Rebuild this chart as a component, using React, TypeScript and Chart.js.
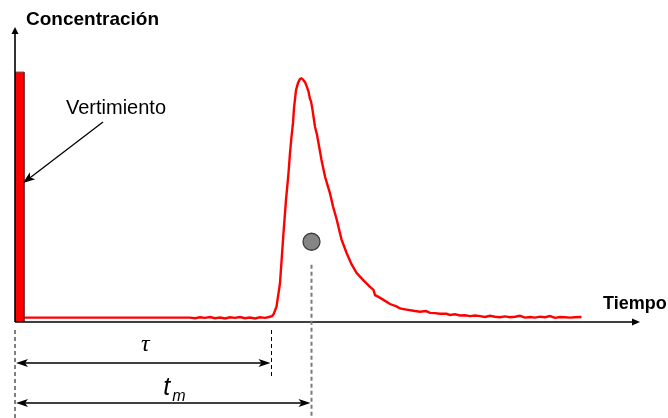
import { useEffect, useRef } from "react";
import { Chart, registerables } from "chart.js";

Chart.register(...registerables);

// ---- data (time units, concentration units) ----
const timeValues = [
  1.8, 35, 36, 37, 38, 39, 40, 41, 42, 43,
  44, 45, 46, 47, 48, 49, 50, 50.8, 51.4, 51.7,
  52.3, 53, 53.7, 54.2, 54.7, 55, 55.3, 55.6, 55.8, 56.2,
  56.6, 57, 57.3, 57.6, 58, 58.4, 58.7, 59, 59.2, 59.5,
  60, 60.4, 60.7, 61.3, 62, 62.5, 63, 63.6, 64.3, 65.3,
  66.3, 67.3, 68.3, 69.7, 71, 71.7, 72, 72.6, 73.7, 75,
  76.3, 77, 78, 79.7, 81, 82.2, 83, 84, 85, 86.3,
  87, 88, 89, 90, 91, 92, 93, 94, 95, 96,
  97, 98, 99, 100, 101, 102, 103, 104, 105, 106,
  107, 108, 109, 110, 111, 112, 113.3,
];
const concentrationValues = [
  1.5, 1.5, 1.3, 1.6, 1.4, 1.7, 1.3, 1.5, 1.2, 1.6,
  1.4, 1.7, 1.3, 1.5, 1.2, 1.6, 1.4, 1.7, 2.0, 2.6,
  5.2, 13.2, 30.2, 41.4, 50.5, 57.3, 62.8, 67.5, 72.5, 78.6,
  81, 82.4, 82.6, 82.2, 81.3, 79.6, 78.1, 75.6, 74.9, 71.9,
  66.2, 63.5, 60.7, 54.9, 49.3, 46.4, 43.6, 39.2, 35.0, 28.0,
  23.5, 19.6, 16.7, 14.1, 11.9, 10.9, 9.1, 8.6, 7.5, 6.1,
  5.3, 4.6, 4.3, 3.8, 3.5, 3.7, 3.1, 3.0, 2.8, 2.8,
  2.4, 2.6, 2.2, 2.3, 2.0, 2.2, 2.0, 1.7, 2.1, 1.8,
  1.6, 1.9, 1.6, 1.8, 2.1, 1.5, 1.7, 1.5, 1.8, 1.6,
  2.0, 1.4, 1.7, 1.6, 1.5, 1.6, 1.7,
];
const pulseTime = [0, 0, 1.8, 1.8];
const pulseConc = [0, 84.7, 84.7, 0];
const tauValue = 51.3;
const tmValue = 59.3;
const centroidConc = 27.2;
const pulseArrowTip = { x: 1.6, y: 47.1 };

const yAxisTitle = "Concentración";
const xAxisTitle = "Tiempo";
const pulseLabel = "Vertimiento";
const tauLabel = "τ";
const tmLabel = "t";
const tmSub = "m";

function arrowHead(
  ctx: CanvasRenderingContext2D,
  tx: number,
  ty: number,
  angle: number,
  len: number,
  half: number,
  inset: number
) {
  ctx.save();
  ctx.translate(tx, ty);
  ctx.rotate(angle);
  ctx.beginPath();
  ctx.moveTo(0, 0);
  ctx.lineTo(-len, -half);
  ctx.lineTo(-len + inset, 0);
  ctx.lineTo(-len, half);
  ctx.closePath();
  ctx.fill();
  ctx.restore();
}

const overlayPlugin = {
  id: "overlay",
  afterDatasetsDraw(chart: any) {
    const ctx: CanvasRenderingContext2D = chart.ctx;
    const xs = chart.scales.x;
    const ys = chart.scales.y;
    const x0 = xs.getPixelForValue(0);
    const y0 = ys.getPixelForValue(0);
    const top = ys.top;
    const right = xs.right;
    const xTau = xs.getPixelForValue(tauValue);
    const xTm = xs.getPixelForValue(tmValue);
    const H = chart.height;

    ctx.save();
    ctx.fillStyle = "#000";
    ctx.strokeStyle = "#000";

    // axes
    ctx.lineWidth = 1.6;
    ctx.beginPath();
    ctx.moveTo(x0, y0);
    ctx.lineTo(x0, top + 5);
    ctx.moveTo(x0, y0);
    ctx.lineTo(right - 5, y0);
    ctx.stroke();
    arrowHead(ctx, x0, top, -Math.PI / 2, 7, 3.5, 0);
    arrowHead(ctx, right, y0, 0, 8, 3.5, 0);

    // axis titles
    ctx.textBaseline = "alphabetic";
    ctx.textAlign = "left";
    ctx.font = "bold 19px 'Liberation Sans', Arial, sans-serif";
    ctx.fillText(yAxisTitle, x0 + 11, 25);
    ctx.font = "bold 18px 'Liberation Sans', Arial, sans-serif";
    ctx.fillText(xAxisTitle, right - 37, y0 - 13);

    // pulse label + arrow
    ctx.font = "20px 'Liberation Sans', Arial, sans-serif";
    ctx.fillText(pulseLabel, x0 + 51, 114);
    const tipX = xs.getPixelForValue(pulseArrowTip.x);
    const tipY = ys.getPixelForValue(pulseArrowTip.y);
    const sx = 103;
    const sy = 122;
    const ang = Math.atan2(tipY - sy, tipX - sx);
    ctx.lineWidth = 1.3;
    ctx.beginPath();
    ctx.moveTo(sx, sy);
    ctx.lineTo(tipX - Math.cos(ang) * 6, tipY - Math.sin(ang) * 6);
    ctx.stroke();
    arrowHead(ctx, tipX, tipY, ang, 12, 4.5, 3);

    // dashed reference lines
    ctx.lineWidth = 1;
    ctx.setLineDash([4, 3]);
    ctx.beginPath();
    ctx.moveTo(x0, y0 + 8);
    ctx.lineTo(x0, H);
    ctx.moveTo(xTau, y0 + 8);
    ctx.lineTo(xTau, y0 + 56);
    ctx.stroke();

    ctx.strokeStyle = "#7a7a7a";
    ctx.lineWidth = 2;
    ctx.beginPath();
    ctx.moveTo(xTm, ys.getPixelForValue(centroidConc) + 23);
    ctx.lineTo(xTm, H);
    ctx.stroke();
    ctx.setLineDash([]);

    // dimension arrows
    ctx.strokeStyle = "#000";
    ctx.lineWidth = 1.5;
    const yTauArrow = y0 + 41;
    const yTmArrow = y0 + 81;
    ctx.beginPath();
    ctx.moveTo(x0 + 6, yTauArrow);
    ctx.lineTo(xTau - 6, yTauArrow);
    ctx.moveTo(x0 + 6, yTmArrow);
    ctx.lineTo(xTm - 6, yTmArrow);
    ctx.stroke();
    arrowHead(ctx, x0 + 1, yTauArrow, Math.PI, 12, 4, 3);
    arrowHead(ctx, xTau - 1, yTauArrow, 0, 12, 4, 3);
    arrowHead(ctx, x0 + 1, yTmArrow, Math.PI, 12, 4, 3);
    arrowHead(ctx, xTm - 1, yTmArrow, 0, 12, 4, 3);

    // labels
    ctx.textAlign = "center";
    ctx.font = "italic 24px 'Liberation Serif', 'Times New Roman', serif";
    ctx.fillText(tauLabel, (x0 + xTau) / 2 + 2, y0 + 29);
    ctx.textAlign = "left";
    const mid = (x0 + xTm) / 2;
    ctx.font = "italic 25px 'Liberation Sans', Arial, sans-serif";
    ctx.fillText(tmLabel, mid, y0 + 73);
    ctx.font = "italic 16px 'Liberation Sans', Arial, sans-serif";
    ctx.fillText(tmSub, mid + 9, y0 + 79);

    ctx.restore();
  },
};

export default function App() {
  const ref = useRef<HTMLCanvasElement | null>(null);

  useEffect(() => {
    document.body.style.margin = "0";
    const canvas = ref.current;
    if (!canvas) return;
    const curve = timeValues.map((t, i) => ({ x: t, y: concentrationValues[i] }));
    const pulse = pulseTime.map((t, i) => ({ x: t, y: pulseConc[i] }));
    const chart = new Chart(canvas, {
      type: "line",
      data: {
        datasets: [
          {
            data: [{ x: tmValue, y: centroidConc }],
            showLine: false,
            pointRadius: 8.5,
            pointBackgroundColor: "#858585",
            pointBorderColor: "#3c3c3c",
            pointBorderWidth: 1.3,
          } as any,
          {
            data: pulse,
            fill: "origin",
            backgroundColor: "#ff0000",
            borderColor: "#6b2a2a",
            borderWidth: 1,
            pointRadius: 0,
            tension: 0,
          },
          {
            data: curve,
            fill: false,
            borderColor: "#ff0000",
            borderWidth: 2.4,
            pointRadius: 0,
            tension: 0,
          },
        ],
      },
      options: {
        responsive: false,
        animation: false,
        devicePixelRatio: 1,
        layout: { padding: { left: 15, right: 28, top: 27, bottom: 96 } },
        plugins: { legend: { display: false }, tooltip: { enabled: false } },
        scales: {
          x: { type: "linear", min: 0, max: 125, display: false },
          y: { type: "linear", min: 0, max: 100, display: false },
        },
      },
      plugins: [overlayPlugin],
    });
    return () => chart.destroy();
  }, []);

  return <canvas ref={ref} width={668} height={418} style={{ display: "block" }} />;
}
